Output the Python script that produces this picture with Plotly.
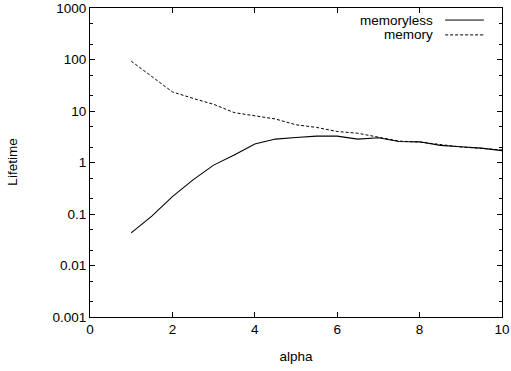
import plotly.graph_objects as go

alpha = [1, 1.5, 2, 2.5, 3, 3.5, 4, 4.5, 5, 5.5, 6, 6.5, 7, 7.5, 8, 8.5, 9, 9.5, 10]
memoryless = [0.043, 0.091, 0.217, 0.46, 0.89, 1.4, 2.29, 2.85, 3.05, 3.25, 3.25, 2.85, 3.03, 2.55, 2.52, 2.15, 2.02, 1.9, 1.7]
memory = [93, 47, 23.5, 17.6, 13.5, 9.3, 8.1, 7.0, 5.4, 4.8, 4.0, 3.7, 3.1, 2.6, 2.5, 2.2, 2.0, 1.88, 1.75]

x_ticks = [0, 2, 4, 6, 8, 10]
y_ticks = [0.001, 0.01, 0.1, 1, 10, 100, 1000]
y_ticktext = ["0.001", "0.01", "0.1", "1", "10", "100", "1000"]
y_minor = [m * d for d in [0.001, 0.01, 0.1, 1, 10, 100] for m in (2, 5)]

FONT = "Liberation Sans, Arial, sans-serif"

fig = go.Figure()
fig.add_trace(go.Scatter(x=alpha, y=memoryless, mode="lines", name="memoryless",
                         line=dict(color="black", width=1.1)))
fig.add_trace(go.Scatter(x=alpha, y=memory, mode="lines", name="memory",
                         line=dict(color="black", width=1, dash="3px,2px")))

fig.update_layout(
    width=511, height=371,
    margin=dict(l=90, r=9, t=8, b=54, autoexpand=False),
    paper_bgcolor="white", plot_bgcolor="white",
    showlegend=False,
    font=dict(family=FONT, size=13.5, color="black"),
    xaxis=dict(range=[0, 10], tickvals=x_ticks, ticks="inside", ticklen=5,
               tickcolor="black", showline=True, linecolor="black", linewidth=1.2,
               mirror="allticks", showgrid=False, zeroline=False, automargin=False,
               title=dict(text="alpha", font=dict(size=13.5))),
    yaxis=dict(type="log", range=[-3, 3], tickvals=y_ticks, ticktext=y_ticktext,
               ticks="inside", ticklen=5, tickcolor="black",
               minor=dict(tickvals=y_minor, ticks="inside", ticklen=3, tickcolor="black"),
               showline=True, linecolor="black", linewidth=1.2,
               mirror="allticks", showgrid=False, zeroline=False, automargin=False),
)

# y-axis title placed like gnuplot's (far left, rotated)
fig.add_annotation(x=-0.189, y=0.5, xref="paper", yref="paper", text="Lifetime",
                   textangle=-90, showarrow=False, xanchor="center", yanchor="middle",
                   font=dict(size=13.5, family=FONT, color="black"))

# gnuplot-style key: label on the left, line sample on the right
names = ["memoryless", "memory"]
dashes = ["solid", "3px,2px"]
key_y = [0.961, 0.913]
for name, dash, ky in zip(names, dashes, key_y):
    fig.add_annotation(x=0.837, y=ky, xref="paper", yref="paper", text=name,
                       showarrow=False, xanchor="right", yanchor="middle",
                       font=dict(size=13.5, family=FONT, color="black"))
    fig.add_shape(type="line", xref="paper", yref="paper", x0=0.862, x1=0.956,
                  y0=ky, y1=ky, line=dict(color="black", width=1, dash=dash))

fig.write_html("out.html")
